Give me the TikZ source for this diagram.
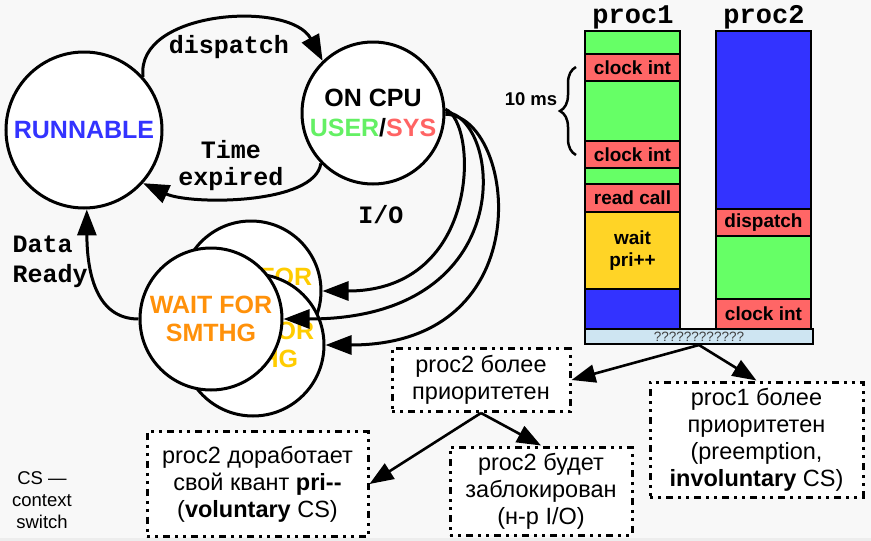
\documentclass[tikz,border=0pt]{standalone}
\usepackage{fontspec}
\setmainfont{Liberation Sans}
\newfontfamily\monofont{Liberation Mono}
\usetikzlibrary{arrows.meta,decorations.pathreplacing}
\definecolor{bgc}{RGB}{248,248,248}
\definecolor{cgreen}{RGB}{102,255,102}
\definecolor{cred}{RGB}{255,102,102}
\definecolor{cblue}{RGB}{51,51,255}
\definecolor{cyel}{RGB}{255,212,38}
\definecolor{ctyel}{RGB}{255,204,0}
\definecolor{corange}{RGB}{255,145,10}
\definecolor{cbar}{RGB}{206,229,242}
\definecolor{tgreen}{RGB}{100,240,100}
\definecolor{tred}{RGB}{255,100,100}
\begin{document}
\begin{tikzpicture}[x=1pt,y=-1pt,
  state/.style={circle,draw,fill=white,line width=3pt,inner sep=0pt,align=center,
    font=\fontsize{25}{30}\selectfont\bfseries},
  waitst/.style={state,font=\fontsize{25}{28}\selectfont\bfseries},
  conn/.style={line width=3pt,-{Triangle[length=26pt,width=19pt]}},
  conn2/.style={line width=2.6pt,-{Triangle[length=24pt,width=18pt]}},
  lab/.style={font=\monofont\fontsize{25}{28}\selectfont\bfseries,align=center},
  seg/.style={draw,line width=2pt,minimum width=95pt,inner sep=0pt,align=center,
    font=\fontsize{19}{22}\selectfont\bfseries},
  dbox/.style={draw,fill=white,line width=3pt,
    dash pattern=on 3pt off 5pt on 3pt off 5pt on 7pt off 5pt,
    inner sep=0pt,align=center,font=\fontsize{23.5}{27}\selectfont}
]
\useasboundingbox (0,0) rectangle (871,541);
\fill[bgc] (0,0) rectangle (871,541);
\fill[gray!14] (0,538) rectangle (871,541);

% states
\node[state,minimum size=156pt,text=cblue] (run) at (84,130) {RUNNABLE};
\node[state,minimum size=142pt] (cpu) at (373,113) {ON CPU\\\textcolor{tgreen}{USER}/\textcolor{tred}{SYS}};
\node[waitst,minimum size=140pt,text=ctyel] (wback) at (251,291) {WAIT FOR\\SMTHG};
\node[waitst,minimum size=142pt,text=ctyel] (wmid) at (253,345) {WAIT FOR\\SMTHG};
\node[waitst,minimum size=142pt,text=corange] (wfront) at (211,319) {WAIT FOR\\SMTHG};

% transitions
\draw[conn] (run.42) .. controls (135,10) and (290,0) .. (cpu.134);
\draw[conn] (cpu.-136) .. controls (315,205) and (190,205) .. (run.-42);
\draw[conn] (wfront.west) .. controls (95,319) and (87,270) .. (run.-88);
\draw[conn] (cpu.3) .. controls (478,122) and (482,291) .. (wback.east);
\draw[conn] (cpu.1) .. controls (502,118) and (522,319) .. (wfront.east);
\draw[conn] (cpu.-1) .. controls (515,115) and (545,345) .. (wmid.east);

\node[lab] (ldisp) at (229,47) {dispatch};
\node[lab,font=\monofont\fontsize{25}{27}\selectfont\bfseries] (ltime) at (231,166) {Time\\expired};
\node[lab] (lio) at (381,215) {I/O};
\node[lab,anchor=west,align=left,font=\monofont\fontsize{25}{30}\selectfont\bfseries] (ldata) at (9,262) {Data\\Ready};

% processes
\node[lab,font=\monofont\fontsize{27}{30}\selectfont\bfseries] (h1) at (633,17) {proc1};
\node[lab,font=\monofont\fontsize{27}{30}\selectfont\bfseries] (h2) at (764,17) {proc2};

\node[seg,fill=cgreen,minimum height=23pt] (p1a) at (632.5,42.5) {};
\node[seg,fill=cred,minimum height=27pt] (p1b) at (632.5,67.5) {clock int};
\node[seg,fill=cgreen,minimum height=60pt] (p1c) at (632.5,111) {};
\node[seg,fill=cred,minimum height=27pt] (p1d) at (632.5,154.5) {clock int};
\node[seg,fill=cgreen,minimum height=16pt] (p1e) at (632.5,176) {};
\node[seg,fill=cred,minimum height=28pt] (p1f) at (632.5,198) {read call};
\node[seg,fill=cyel,minimum height=77pt] (p1g) at (632.5,250.5) {wait\\pri++};
\node[seg,fill=cblue,minimum height=40pt] (p1h) at (632.5,309) {};

\node[seg,fill=cblue,minimum height=178pt] (p2a) at (763.5,120) {};
\node[seg,fill=cred,minimum height=27pt] (p2b) at (763.5,222.5) {dispatch};
\node[seg,fill=cgreen,minimum height=63pt] (p2c) at (763.5,267.5) {};
\node[seg,fill=cred,minimum height=30pt] (p2d) at (763.5,314) {clock int};

\node[seg,fill=cbar,minimum width=228pt,minimum height=15pt,
  font=\fontsize{13.5}{14}\selectfont,text=black!75] (bar) at (699,336.5) {????????????};

\draw[line width=2.5pt,decorate,decoration={brace,amplitude=16pt}] (576,155) -- (576,67);
\node[font=\fontsize{18.5}{20}\selectfont\bfseries] (tenms) at (531,99) {10 ms};

% outcome boxes
\node[dbox,minimum width=178pt,minimum height=63pt] (b2more) at (481,380) {proc2 более\\приоритетен};
\node[dbox,minimum width=213pt,minimum height=115pt] (b1more) at (756.5,439.5) {proc1 более\\приоритетен\\(preemption,\\\textbf{involuntary} CS)};
\node[dbox,minimum width=182pt,minimum height=88pt] (b2block) at (541,491) {proc2 будет\\заблокирован\\(н-р I/O)};
\node[dbox,minimum width=221pt,minimum height=105pt] (b2finish) at (257.5,484) {proc2 доработает\\свой квант \textbf{pri{-}{-}}\\(\textbf{voluntary} CS)};

\draw[conn2] (bar.south) -- (b2more.east);
\draw[conn2] (bar.south) -- (b1more.north);
\draw[conn2] (b2more.south) -- (b2finish.east);
\draw[conn2] (b2more.south) -- (b2block.north);

\node[font=\fontsize{18.5}{22}\selectfont,align=center] (csnote) at (42,500) {CS —\\context\\switch};
\end{tikzpicture}
\end{document}
